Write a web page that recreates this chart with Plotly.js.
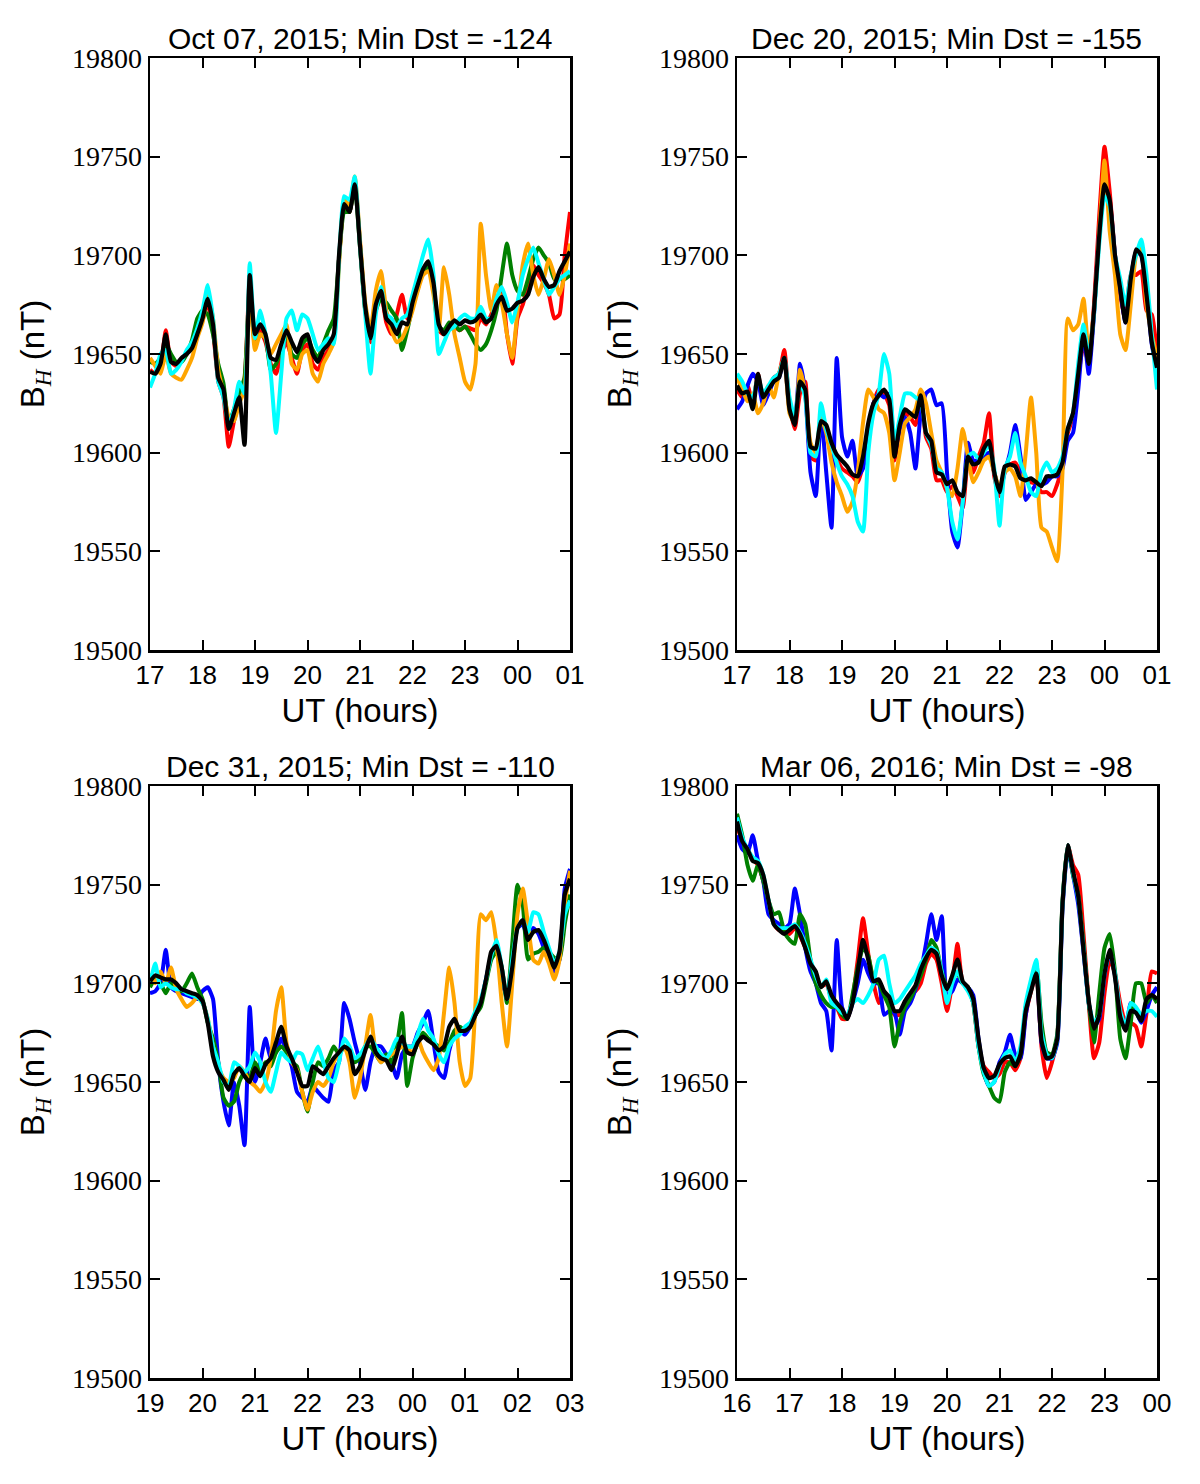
<!DOCTYPE html>
<html>
<head>
<meta charset="utf-8">
<script src="https://cdn.plot.ly/plotly-3.0.1.min.js"></script>
<style>
  html, body { margin: 0; padding: 0; background: #ffffff; }
  #chart { width: 1200px; height: 1484px; }
</style>
</head>
<body>
<div id="chart"></div>
<script>
// Horizontal geomagnetic field B_H (nT) during four storms, sampled every 6 minutes (0.1 h).
const SAMPLE_STEP_H = 0.1;

// ---------- Oct 07, 2015 (17 UT -> 01 UT) ----------
const oct07Start = 17;
const oct07Title = 'Oct 07, 2015; Min Dst = -124';
const oct07TickVals = [17, 18, 19, 20, 21, 22, 23, 24, 25];
const oct07TickText = ['17', '18', '19', '20', '21', '22', '23', '00', '01'];
const oct07Red = [19642,19640,19644,19662,19646,19644,19647,19650,19655,19662,
  19667,19676,19662,19636,19628,19603,19616,19626,19636,19688,
  19658,19662,19656,19645,19640,19650,19656,19648,19640,19652,
  19655,19645,19642,19648,19652,19658,19698,19725,19722,19738,
  19706,19672,19656,19676,19680,19666,19660,19670,19680,19668,
  19674,19683,19692,19696,19684,19662,19660,19665,19664,19662,
  19664,19663,19662,19668,19665,19670,19678,19682,19660,19645,
  19668,19675,19685,19695,19690,19686,19680,19668,19670,19700,19722];
const oct07Green = [19646,19645,19648,19655,19650,19646,19646,19650,19657,19668,
  19672,19670,19660,19645,19635,19615,19622,19630,19638,19685,
  19655,19660,19658,19642,19645,19652,19660,19650,19648,19655,
  19658,19652,19648,19655,19662,19668,19698,19722,19722,19735,
  19704,19672,19662,19672,19678,19676,19672,19668,19652,19662,
  19674,19683,19692,19694,19684,19664,19662,19666,19665,19662,
  19664,19660,19655,19652,19655,19662,19672,19690,19706,19690,
  19682,19680,19688,19698,19704,19700,19696,19688,19688,19688,19690];
const oct07Orange = [19648,19644,19640,19650,19640,19638,19637,19642,19648,19658,
  19666,19680,19668,19642,19630,19618,19616,19625,19632,19680,
  19652,19660,19658,19650,19655,19660,19665,19645,19642,19650,
  19652,19640,19636,19645,19650,19656,19695,19728,19725,19740,
  19708,19676,19662,19682,19692,19672,19662,19656,19658,19664,
  19672,19682,19690,19692,19680,19662,19694,19680,19660,19648,
  19636,19632,19645,19716,19690,19672,19685,19676,19660,19648,
  19672,19695,19706,19690,19680,19688,19698,19690,19680,19690,19706];
const oct07Cyan = [19633,19640,19650,19652,19640,19642,19646,19652,19656,19663,
  19672,19685,19668,19636,19628,19614,19622,19636,19630,19696,
  19658,19672,19660,19640,19610,19640,19668,19672,19662,19670,
  19668,19660,19652,19655,19658,19655,19698,19730,19728,19740,
  19705,19670,19640,19670,19684,19670,19668,19664,19668,19670,
  19680,19690,19700,19708,19690,19650,19656,19662,19664,19668,
  19670,19668,19668,19674,19668,19668,19678,19684,19676,19666,
  19676,19690,19698,19704,19696,19688,19680,19684,19688,19690,19692];
const oct07Mean = [19641,19640,19645,19660,19646,19645,19648,19650,19653,19660,
  19668,19678,19665,19638,19632,19612,19620,19628,19604,19690,
  19660,19665,19660,19648,19647,19655,19662,19656,19651,19658,
  19660,19650,19646,19652,19655,19660,19700,19726,19722,19736,
  19705,19674,19658,19675,19682,19668,19665,19660,19666,19665,
  19676,19685,19693,19697,19686,19665,19660,19664,19667,19665,
  19667,19666,19667,19670,19666,19668,19675,19679,19672,19673,
  19676,19677,19680,19689,19694,19688,19684,19685,19692,19697,19702];

// ---------- Dec 20, 2015 (17 UT -> 01 UT) ----------
const dec20Start = 17;
const dec20Title = 'Dec 20, 2015; Min Dst = -155';
const dec20TickVals = [17, 18, 19, 20, 21, 22, 23, 24, 25];
const dec20TickText = ['17', '18', '19', '20', '21', '22', '23', '00', '01'];
const dec20Red = [19632,19628,19634,19625,19640,19626,19630,19638,19640,19652,
  19625,19612,19630,19636,19598,19596,19614,19612,19604,19597,
  19592,19590,19588,19585,19594,19612,19625,19632,19630,19624,
  19596,19612,19620,19618,19614,19628,19608,19602,19586,19586,
  19580,19583,19578,19572,19596,19590,19598,19605,19620,19588,
  19578,19592,19594,19595,19590,19586,19585,19584,19580,19580,
  19578,19584,19594,19610,19618,19638,19655,19645,19675,19720,
  19755,19732,19700,19680,19666,19690,19690,19692,19672,19670,19650];
const dec20Blue = [19622,19626,19634,19640,19636,19624,19630,19636,19638,19648,
  19622,19616,19645,19630,19590,19578,19620,19590,19562,19648,
  19608,19598,19606,19588,19592,19608,19625,19630,19628,19630,
  19600,19612,19618,19610,19592,19620,19630,19632,19624,19625,
  19590,19560,19552,19575,19605,19596,19596,19598,19600,19590,
  19580,19590,19600,19614,19598,19576,19580,19584,19584,19585,
  19588,19588,19592,19606,19610,19632,19660,19640,19670,19712,
  19732,19726,19700,19682,19666,19688,19702,19700,19682,19655,19642];
const dec20Orange = [19638,19632,19626,19630,19620,19625,19634,19628,19640,19648,
  19620,19615,19642,19630,19605,19600,19618,19610,19595,19585,
  19578,19570,19575,19590,19615,19632,19628,19622,19620,19610,
  19586,19600,19615,19618,19622,19632,19625,19610,19596,19590,
  19582,19578,19592,19612,19598,19585,19590,19596,19598,19590,
  19582,19590,19592,19588,19578,19600,19628,19600,19562,19560,
  19552,19545,19590,19668,19662,19665,19678,19650,19672,19712,
  19748,19712,19690,19660,19652,19675,19700,19705,19675,19660,19648];
const dec20Cyan = [19640,19636,19630,19628,19638,19630,19634,19638,19640,19648,
  19628,19618,19636,19628,19600,19598,19625,19612,19604,19595,
  19588,19584,19578,19565,19560,19600,19620,19630,19650,19640,
  19605,19618,19630,19630,19628,19626,19610,19604,19592,19590,
  19582,19565,19556,19575,19598,19600,19597,19600,19604,19592,
  19563,19592,19598,19610,19595,19588,19580,19578,19590,19595,
  19590,19592,19598,19612,19620,19645,19665,19648,19670,19706,
  19730,19725,19700,19688,19675,19690,19700,19708,19690,19660,19632];
const dec20Mean = [19634,19630,19631,19622,19640,19628,19632,19636,19638,19648,
  19622,19614,19636,19632,19603,19602,19616,19614,19605,19599,
  19596,19593,19589,19588,19598,19615,19625,19629,19632,19627,
  19598,19614,19622,19620,19618,19629,19610,19606,19590,19589,
  19584,19586,19580,19578,19598,19594,19595,19602,19606,19590,
  19580,19593,19594,19593,19587,19586,19587,19585,19583,19588,
  19588,19589,19595,19612,19620,19640,19660,19645,19672,19710,
  19736,19728,19700,19683,19666,19688,19703,19700,19680,19656,19643];

// ---------- Dec 31, 2015 (19 UT -> 03 UT) ----------
const dec31Start = 19;
const dec31Title = 'Dec 31, 2015; Min Dst = -110';
const dec31TickVals = [19, 20, 21, 22, 23, 24, 25, 26, 27];
const dec31TickText = ['19', '20', '21', '22', '23', '00', '01', '02', '03'];
const dec31Blue = [19695,19696,19700,19717,19698,19696,19695,19694,19693,19692,
  19696,19698,19692,19660,19640,19628,19650,19638,19618,19688,
  19650,19660,19672,19662,19665,19672,19666,19658,19645,19642,
  19640,19648,19645,19642,19640,19656,19660,19690,19682,19670,
  19660,19646,19660,19668,19668,19664,19660,19652,19664,19668,
  19668,19675,19680,19686,19670,19655,19652,19666,19674,19676,
  19674,19678,19684,19690,19702,19714,19718,19700,19694,19712,
  19728,19730,19722,19728,19725,19718,19712,19706,19712,19748,19758];
const dec31Green = [19698,19702,19700,19695,19700,19697,19696,19700,19705,19698,
  19692,19680,19672,19660,19642,19638,19640,19650,19655,19652,
  19660,19655,19660,19658,19665,19668,19665,19660,19658,19645,
  19635,19650,19660,19658,19662,19668,19664,19668,19666,19660,
  19662,19668,19668,19664,19660,19664,19660,19668,19685,19648,
  19662,19670,19675,19672,19670,19668,19666,19670,19676,19678,
  19676,19678,19684,19688,19700,19712,19716,19708,19690,19720,
  19750,19740,19712,19715,19716,19718,19716,19713,19712,19730,19745];
const dec31Orange = [19705,19700,19706,19700,19708,19697,19692,19688,19690,19693,
  19690,19682,19668,19658,19652,19650,19652,19658,19655,19650,
  19648,19645,19650,19662,19686,19698,19670,19660,19656,19645,
  19636,19645,19650,19648,19652,19660,19665,19668,19660,19642,
  19652,19668,19684,19665,19660,19662,19664,19666,19668,19668,
  19664,19672,19665,19660,19656,19662,19685,19708,19690,19660,
  19648,19652,19690,19735,19732,19736,19720,19690,19668,19700,
  19735,19748,19730,19712,19710,19716,19710,19702,19712,19740,19757];
const dec31Cyan = [19700,19710,19698,19700,19698,19697,19697,19695,19694,19693,
  19690,19682,19668,19660,19650,19648,19660,19658,19655,19658,
  19665,19660,19650,19645,19655,19665,19662,19660,19665,19664,
  19656,19662,19668,19660,19652,19650,19660,19672,19668,19662,
  19664,19668,19672,19668,19664,19662,19666,19672,19670,19668,
  19668,19674,19682,19676,19672,19664,19660,19668,19672,19674,
  19678,19680,19686,19692,19702,19714,19722,19708,19692,19712,
  19728,19732,19726,19736,19735,19726,19718,19710,19716,19735,19742];
const dec31Mean = [19701,19704,19703,19702,19702,19700,19697,19696,19695,19694,
  19691,19680,19663,19655,19651,19646,19654,19657,19653,19650,
  19657,19653,19659,19662,19670,19678,19668,19662,19655,19648,
  19648,19658,19656,19654,19658,19662,19665,19668,19666,19654,
  19658,19666,19673,19665,19662,19661,19656,19664,19673,19665,
  19664,19670,19673,19671,19669,19666,19668,19678,19682,19676,
  19676,19678,19684,19690,19702,19716,19719,19708,19692,19708,
  19728,19732,19722,19726,19727,19722,19715,19708,19716,19745,19753];

// ---------- Mar 06, 2016 (16 UT -> 00 UT) ----------
const mar06Start = 16;
const mar06Title = 'Mar 06, 2016; Min Dst = -98';
const mar06TickVals = [16, 17, 18, 19, 20, 21, 22, 23, 24];
const mar06TickText = ['16', '17', '18', '19', '20', '21', '22', '23', '00'];
const mar06Red = [19780,19772,19768,19763,19760,19752,19740,19730,19727,19726,
  19725,19728,19724,19718,19710,19704,19698,19700,19692,19688,
  19682,19682,19692,19712,19733,19715,19700,19690,19696,19690,
  19684,19684,19690,19694,19696,19700,19710,19715,19712,19700,
  19686,19700,19720,19700,19698,19690,19668,19658,19655,19652,
  19654,19660,19660,19656,19662,19684,19696,19705,19668,19652,
  19660,19672,19740,19770,19760,19755,19725,19690,19662,19670,
  19695,19712,19705,19690,19680,19680,19678,19668,19685,19706,19705];
const mar06Blue = [19775,19768,19766,19775,19762,19752,19735,19732,19730,19728,
  19730,19748,19735,19718,19706,19700,19690,19686,19666,19722,
  19688,19682,19690,19700,19712,19705,19700,19700,19684,19686,
  19685,19674,19686,19690,19697,19706,19720,19735,19722,19734,
  19694,19696,19702,19700,19698,19694,19672,19655,19648,19650,
  19660,19665,19674,19664,19662,19684,19698,19708,19670,19662,
  19662,19670,19738,19768,19755,19740,19716,19690,19678,19682,
  19704,19716,19704,19684,19678,19690,19686,19680,19686,19694,19698];
const mar06Green = [19786,19775,19760,19752,19760,19752,19742,19735,19736,19726,
  19722,19720,19735,19730,19712,19700,19694,19690,19688,19688,
  19684,19682,19694,19708,19718,19714,19702,19700,19694,19688,
  19668,19680,19688,19692,19698,19704,19712,19722,19718,19706,
  19698,19702,19705,19700,19698,19690,19668,19654,19648,19642,
  19640,19655,19660,19658,19664,19688,19698,19710,19680,19665,
  19664,19674,19742,19770,19755,19745,19720,19690,19670,19695,
  19718,19725,19706,19672,19662,19680,19700,19700,19690,19694,19690];
const mar06Cyan = [19784,19774,19768,19764,19762,19755,19742,19730,19728,19728,
  19728,19730,19726,19720,19712,19704,19698,19702,19690,19688,
  19685,19684,19690,19692,19690,19694,19700,19712,19714,19700,
  19690,19692,19696,19700,19704,19710,19714,19718,19716,19706,
  19690,19700,19706,19700,19696,19690,19668,19655,19648,19650,
  19658,19664,19666,19660,19668,19690,19702,19712,19675,19664,
  19662,19672,19740,19770,19756,19743,19718,19690,19680,19684,
  19705,19716,19705,19686,19678,19690,19688,19684,19686,19686,19683];
const mar06Mean = [19782,19772,19768,19762,19761,19755,19742,19730,19727,19725,
  19727,19729,19725,19718,19710,19706,19698,19701,19694,19690,
  19687,19682,19690,19706,19722,19712,19701,19702,19696,19693,
  19686,19686,19691,19695,19699,19707,19713,19717,19715,19704,
  19697,19704,19712,19701,19698,19692,19672,19657,19652,19653,
  19659,19662,19663,19658,19664,19686,19696,19705,19671,19662,
  19663,19672,19740,19770,19757,19744,19717,19691,19677,19684,
  19705,19717,19703,19683,19676,19686,19685,19681,19692,19694,19692];

// Shared value axis
const yTickVals = [19500, 19550, 19600, 19650, 19700, 19750, 19800];
const yTickText = ['19500', '19550', '19600', '19650', '19700', '19750', '19800'];

const COLORS = { red: '#ff0000', blue: '#0000ff', green: '#008000', orange: '#ffa500', cyan: '#00ffff', mean: '#000000' };

const panels = [
  { start: oct07Start, title: oct07Title, tv: oct07TickVals, tt: oct07TickText,
    series: [['red', oct07Red], ['green', oct07Green], ['orange', oct07Orange], ['cyan', oct07Cyan], ['mean', oct07Mean]] },
  { start: dec20Start, title: dec20Title, tv: dec20TickVals, tt: dec20TickText,
    series: [['red', dec20Red], ['blue', dec20Blue], ['orange', dec20Orange], ['cyan', dec20Cyan], ['mean', dec20Mean]] },
  { start: dec31Start, title: dec31Title, tv: dec31TickVals, tt: dec31TickText,
    series: [['blue', dec31Blue], ['green', dec31Green], ['orange', dec31Orange], ['cyan', dec31Cyan], ['mean', dec31Mean]] },
  { start: mar06Start, title: mar06Title, tv: mar06TickVals, tt: mar06TickText,
    series: [['red', mar06Red], ['blue', mar06Blue], ['green', mar06Green], ['cyan', mar06Cyan], ['mean', mar06Mean]] }
];

// Plot-area placement (paper fractions) for the 2 x 2 grid
const W = 1200, H = 1484;
const xDomains = [[150 / W, 570 / W], [737 / W, 1157 / W]];
const yDomains = [[(H - 650) / H, (H - 58) / H], [(H - 1378) / H, (H - 786) / H]];

const SANS = 'Liberation Sans, Arial, Helvetica, sans-serif';
const SERIF = 'Liberation Serif, Times New Roman, serif';

const traces = [];
const layout = {
  width: W, height: H,
  margin: { l: 0, r: 0, t: 0, b: 0 },
  paper_bgcolor: '#ffffff', plot_bgcolor: '#ffffff',
  showlegend: false,
  annotations: []
};

panels.forEach((p, i) => {
  const n = i + 1;
  const xa = 'x' + (n === 1 ? '' : n);
  const ya = 'y' + (n === 1 ? '' : n);
  const col = i % 2, row = Math.floor(i / 2);

  p.series.forEach(([name, vals]) => {
    traces.push({
      type: 'scatter', mode: 'lines',
      x: vals.map((_, k) => p.start + k * SAMPLE_STEP_H),
      y: vals,
      xaxis: xa, yaxis: ya,
      line: { color: COLORS[name], width: name === 'mean' ? 4.2 : 4.0, shape: 'spline', smoothing: 0.5 },
      hoverinfo: 'skip'
    });
  });

  layout['xaxis' + (n === 1 ? '' : n)] = {
    domain: xDomains[col], anchor: ya,
    range: [p.start, p.start + 8],
    tickmode: 'array', tickvals: p.tv, ticktext: p.tt,
    ticks: 'inside', ticklen: 10, tickwidth: 2, tickcolor: '#000',
    showline: true, linecolor: '#000', linewidth: 2.5, mirror: 'ticks',
    showgrid: false, zeroline: false,
    tickfont: { family: SANS, size: 26, color: '#000' },
    title: { text: 'UT (hours)', font: { family: SANS, size: 33, color: '#000' }, standoff: 10 }
  };
  layout['yaxis' + (n === 1 ? '' : n)] = {
    domain: yDomains[row], anchor: xa,
    range: [19500, 19800],
    tickmode: 'array', tickvals: yTickVals, ticktext: yTickText,
    ticks: 'inside', ticklen: 10, tickwidth: 2, tickcolor: '#000',
    showline: true, linecolor: '#000', linewidth: 2.5, mirror: 'ticks',
    showgrid: false, zeroline: false,
    tickfont: { family: SERIF, size: 28, color: '#000' },
    title: {
      text: 'B<sub><span style="font-family:Liberation Serif"><i>H</i></span></sub> (nT)',
      font: { family: SANS, size: 33, color: '#000' }, standoff: 18
    }
  };
  layout.annotations.push({
    xref: 'paper', yref: 'paper',
    x: (xDomains[col][0] + xDomains[col][1]) / 2,
    y: yDomains[row][1],
    xanchor: 'center', yanchor: 'bottom', yshift: 1,
    text: p.title, showarrow: false,
    font: { family: SANS, size: 30, color: '#000' }
  });
});

Plotly.newPlot('chart', traces, layout, { staticPlot: true, displayModeBar: false });
</script>
</body>
</html>
